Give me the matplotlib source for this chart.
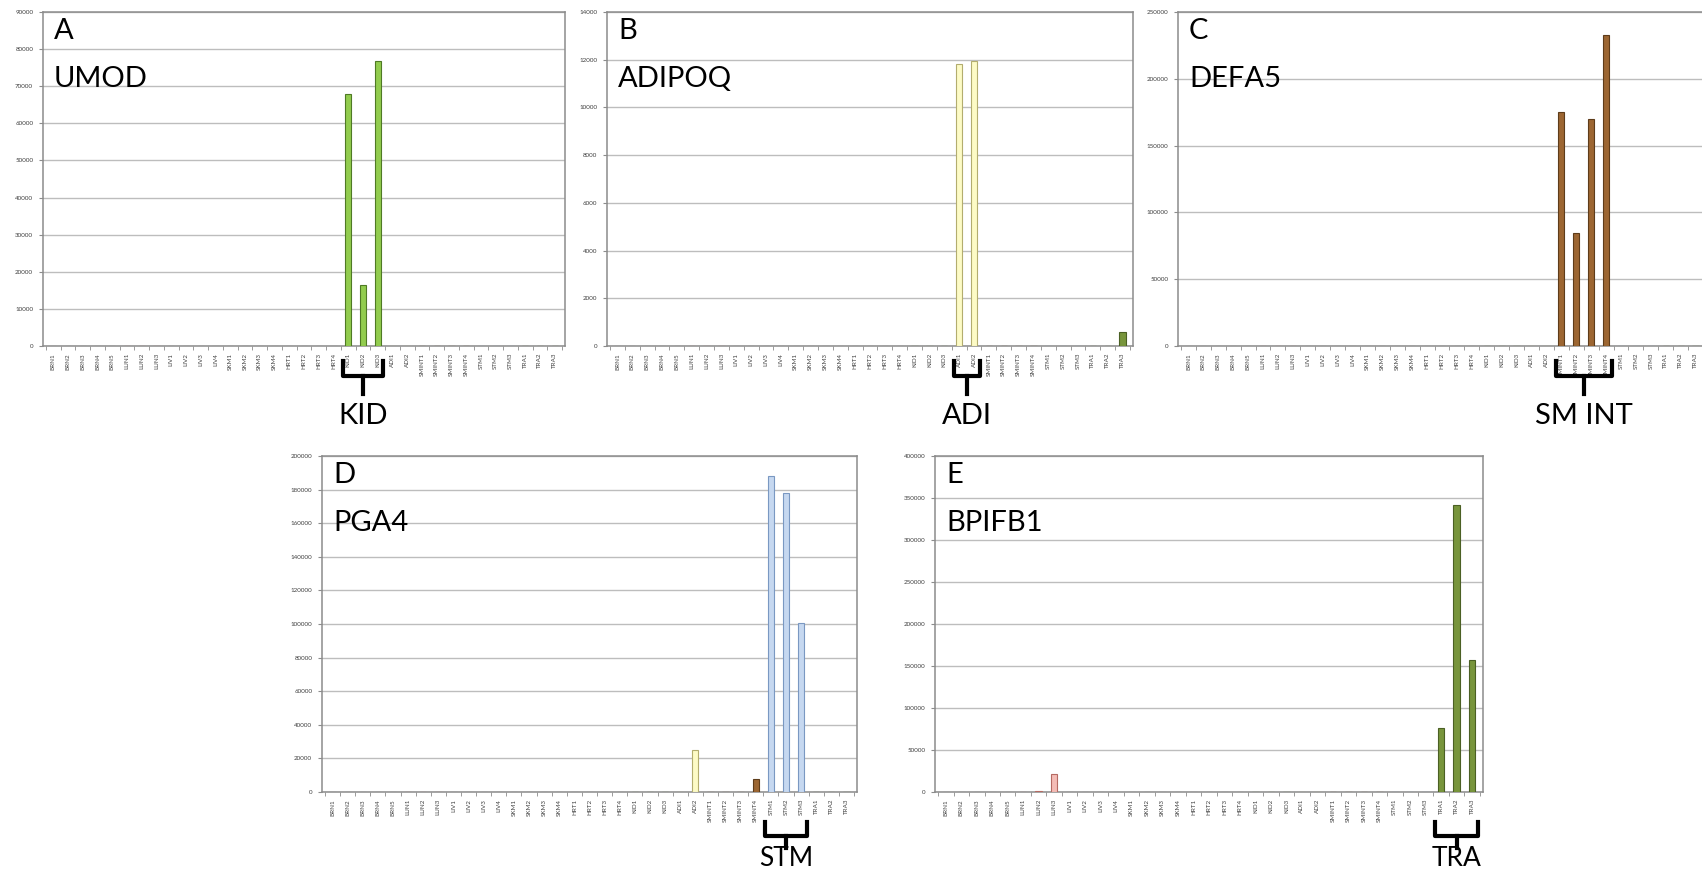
"""
Five tissue-specific genes: expression per sample, Excel-style bar panels.
Output: out.png
"""
import matplotlib.pyplot as plt
from matplotlib.ticker import FuncFormatter

plt.rcParams['font.family'] = ['Lato', 'DejaVu Sans']

categories = ["BRN1", "BRN2", "BRN3", "BRN4", "BRN5", "LUN1", "LUN2", "LUN3",
              "LIV1", "LIV2", "LIV3", "LIV4", "SKM1", "SKM2", "SKM3", "SKM4",
              "HRT1", "HRT2", "HRT3", "HRT4", "KID1", "KID2", "KID3", "ADI1", "ADI2",
              "SMINT1", "SMINT2", "SMINT3", "SMINT4", "STM1", "STM2", "STM3",
              "TRA1", "TRA2", "TRA3"]

#          BRN1-5          LUN1-3     LIV1-4      SKM1-4      HRT1-4      KID1-3                ADI1-2        SMINT1-4                      STM1-3                  TRA1-3
umod   = [0, 0, 0, 0, 0,  0, 0, 0,   0, 0, 0, 0, 0, 0, 0, 0, 0, 0, 0, 0,  68000, 16500, 76800, 0, 0,        0, 0, 0, 0,                   0, 0, 0,                0, 0, 0]
adipoq = [0, 0, 0, 0, 0,  0, 0, 0,   0, 0, 0, 0, 0, 0, 0, 0, 0, 0, 0, 0,  0, 0, 0,             11830, 11930, 0, 0, 0, 0,                   0, 0, 0,                0, 0, 580]
defa5  = [0, 0, 0, 0, 0,  0, 0, 0,   0, 0, 0, 0, 0, 0, 0, 0, 0, 0, 0, 0,  0, 0, 0,             0, 0,        175500, 84500, 170000, 233000, 0, 0, 0,                0, 0, 0]
pga4   = [0, 0, 0, 0, 0,  0, 0, 0,   0, 0, 0, 0, 0, 0, 0, 0, 0, 0, 0, 0,  0, 0, 0,             0, 25000,    0, 0, 0, 7800,                188000, 178000, 100500, 0, 0, 0]
bpifb1 = [0, 0, 0, 0, 0,  0, 900, 22000, 0, 0, 0, 0, 0, 0, 0, 0, 0, 0, 0, 0, 0, 0, 0,         0, 0,        0, 0, 0, 0,                   0, 0, 0,                76000, 342000, 157000]

# fill / edge per tissue
tissue_color = {
    "BRN": ("#c0c0c0", "#808080"),
    "LUN": ("#f4bcb6", "#b56a62"),
    "LIV": ("#c0c0c0", "#808080"),
    "SKM": ("#c0c0c0", "#808080"),
    "HRT": ("#c0c0c0", "#808080"),
    "KID": ("#92cc4e", "#4f7a25"),
    "ADI": ("#fdfbc6", "#b3ad6e"),
    "SMINT": ("#9c6632", "#5e3c1a"),
    "STM": ("#c6d8f0", "#7a98c2"),
    "TRA": ("#78953c", "#4b6024"),
}

W, H = 1702, 876
fig = plt.figure(figsize=(W / 100, H / 100), dpi=100)


def tissue(name):
    return name.rstrip("0123456789")


def panel(box, letter, gene, values, ymax, ystep, group, label, brace_px, label_size):
    left, top, right, bottom = box
    ax = fig.add_axes([left / W, 1 - bottom / H, (right - left) / W, (bottom - top) / H])
    x = range(len(categories))
    faces = [tissue_color[tissue(c)][0] for c in categories]
    edges = [tissue_color[tissue(c)][1] for c in categories]
    ax.bar(x, values, width=0.42, color=faces, edgecolor=edges, linewidth=0.8, zorder=3)

    ax.set_xlim(-0.7, len(categories) - 0.3)
    ax.set_ylim(0, ymax)
    ax.set_yticks(range(0, ymax + 1, ystep))
    ax.yaxis.set_major_formatter(FuncFormatter(lambda v, p: f"{int(v)}"))
    ax.grid(axis="y", color="#bdbdbd", lw=1.0, zorder=0)
    for s in ax.spines.values():
        s.set_color("#8c8c8c")
        s.set_linewidth(1.1)
    ax.tick_params(axis="y", labelsize=4.5, labelcolor="#404040", length=3,
                   color="#8c8c8c", pad=4)
    ax.set_xticks(list(x))
    ax.set_xticklabels(categories, rotation=90, fontsize=4.5, color="#404040")
    ax.set_xticks([i - 0.5 for i in range(len(categories) + 1)], minor=True)
    ax.tick_params(axis="x", which="major", length=0, pad=5)
    ax.tick_params(axis="x", which="minor", length=3, color="#8c8c8c")

    ax.annotate(letter, xy=(0, 1), xycoords="axes fraction", xytext=(11, -6),
                textcoords="offset pixels", va="top", fontsize=21)
    ax.annotate(gene, xy=(0, 1), xycoords="axes fraction", xytext=(11, -54),
                textcoords="offset pixels", va="top", fontsize=21)

    # brace below the tick labels marking the tissue group
    idx = [i for i, c in enumerate(categories) if tissue(c) == group]
    h = ax.bbox.height
    t_top, t_mid, t_bot, t_txt = (-p / h for p in brace_px)
    tr = ax.get_xaxis_transform()
    x0, x1 = min(idx) - 0.38, max(idx) + 0.38
    xc = (x0 + x1) / 2
    ax.plot([x0, x0, x1, x1], [t_top, t_mid, t_mid, t_top], color="black", lw=3,
            transform=tr, clip_on=False, solid_joinstyle="round")
    ax.plot([xc, xc], [t_mid, t_bot], color="black", lw=3, transform=tr, clip_on=False)
    ax.text(xc, t_txt, label, transform=tr, ha="center", va="center", fontsize=label_size)
    return ax


top_brace = (15, 30, 48, 70)
low_brace = (30, 44, 56, 66)

panel((43, 12, 565, 346), "A", "UMOD", umod, 90000, 10000, "KID", "KID", top_brace, 21)
panel((607, 12, 1133, 346), "B", "ADIPOQ", adipoq, 14000, 2000, "ADI", "ADI", top_brace, 21)
panel((1178, 12, 1706, 346), "C", "DEFA5", defa5, 250000, 50000, "SMINT", "SM INT", top_brace, 21)
panel((322, 456, 857, 792), "D", "PGA4", pga4, 200000, 20000, "STM", "STM", low_brace, 19)
panel((935, 456, 1483, 792), "E", "BPIFB1", bpifb1, 400000, 50000, "TRA", "TRA", low_brace, 19)

fig.savefig("out.png", dpi=100)
